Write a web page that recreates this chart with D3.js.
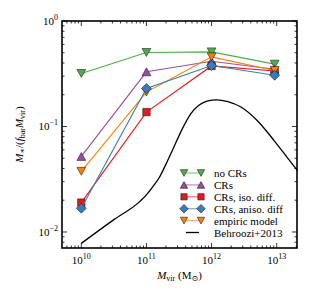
<!DOCTYPE html>
<html>
<head>
<meta charset="utf-8">
<script src="https://cdn.jsdelivr.net/npm/d3@7"></script>
<style>
  body { margin: 0; background: #fff; }
  text { font-family: "Liberation Serif", "DejaVu Serif", serif; }
</style>
</head>
<body>
<div class="chart"></div>
<script>
// halo masses of the simulated runs
const mvir = [1e10, 1e11, 1e12, 9.3e12];

const noCRs     = [0.318, 0.503, 0.51, 0.39];
const crs       = [0.052, 0.33, 0.416, 0.349];
const crsIso    = [0.019, 0.137, 0.375, 0.336];
const crsAniso  = [0.0168, 0.229, 0.378, 0.306];
const empiric   = [0.0376, 0.212, 0.457, 0.34];

// Behroozi+2013 relation
const behrooziLogM = [10.0, 10.5, 10.9, 11.0, 11.1, 11.2, 11.3, 11.42, 11.55, 11.68, 11.8, 11.93, 12.08, 12.25, 12.45, 12.7, 12.96, 13.16, 13.32];
const behrooziVal  = [0.0078, 0.0131, 0.0195, 0.0225, 0.027, 0.033, 0.044, 0.0635, 0.095, 0.132, 0.158, 0.174, 0.179, 0.172, 0.153, 0.114, 0.0736, 0.051, 0.038];

const xTickExp = [10, 11, 12, 13];
const yTickExp = [0, -1, -2];

const series = [
  {key: "no CRs",             values: noCRs,    color: "#4daf4a", shape: "tridown", size: 4.4},
  {key: "CRs",                values: crs,      color: "#984ea3", shape: "triup",   size: 4.4},
  {key: "CRs, iso. diff.",    values: crsIso,   color: "#e41a1c", shape: "square",  size: 3.7},
  {key: "empiric model",      values: empiric,  color: "#ff7f00", shape: "tridown", size: 4.4},
  {key: "CRs, aniso. diff",   values: crsAniso, color: "#377eb8", shape: "diamond", size: 5}
];
const legendOrder = ["no CRs", "CRs", "CRs, iso. diff.", "CRs, aniso. diff", "empiric model"];

const margin = {top: 21, right: 18, bottom: 52, left: 62};
const width = 315 - margin.left - margin.right,
      height = 300 - margin.top - margin.bottom;

const svg = d3.select(".chart").append("svg")
    .attr("width", 315)
    .attr("height", 300)
  .append("g")
    .attr("transform", `translate(${margin.left},${margin.top})`);

const xScale = d3.scaleLog().domain([5.05e9, 2.05e13]).range([0, width]);
const yScale = d3.scaleLog().domain([0.00705, 1]).range([height, 0]);

// marker shapes, "size" is the half extent in px
function symbolPath(shape, r) {
  const p = d3.path();
  if (shape === "square") {
    p.rect(-r, -r, 2 * r, 2 * r);
  } else if (shape === "diamond") {
    p.moveTo(0, -r); p.lineTo(r, 0); p.lineTo(0, r); p.lineTo(-r, 0); p.closePath();
  } else if (shape === "triup") {
    p.moveTo(0, -r * 0.9); p.lineTo(r, r * 0.9); p.lineTo(-r, r * 0.9); p.closePath();
  } else {
    p.moveTo(0, r * 0.9); p.lineTo(r, -r * 0.9); p.lineTo(-r, -r * 0.9); p.closePath();
  }
  return p.toString();
}

// ticks: inward on all sides
const ticksG = svg.append("g").attr("stroke", "#000").attr("stroke-width", 0.8);
const xMinor = [], yMinor = [];
for (let e = 9; e <= 13; e++) for (let m = 2; m <= 9; m++) {
  const v = m * Math.pow(10, e);
  if (v > xScale.domain()[0] && v < xScale.domain()[1]) xMinor.push(v);
}
for (let e = -3; e <= -1; e++) for (let m = 2; m <= 9; m++) {
  const v = m * Math.pow(10, e);
  if (v > yScale.domain()[0] && v < yScale.domain()[1]) yMinor.push(v);
}
const xMajor = xTickExp.map(e => Math.pow(10, e));
const yMajor = yTickExp.map(e => Math.pow(10, e));

[[xMajor, 5], [xMinor, 2.5]].forEach(([vals, len]) => {
  vals.forEach(v => {
    const x = xScale(v);
    ticksG.append("line").attr("x1", x).attr("x2", x).attr("y1", height).attr("y2", height - len);
    ticksG.append("line").attr("x1", x).attr("x2", x).attr("y1", 0).attr("y2", len);
  });
});
[[yMajor, 5], [yMinor, 2.5]].forEach(([vals, len]) => {
  vals.forEach(v => {
    const y = yScale(v);
    ticksG.append("line").attr("x1", 0).attr("x2", len).attr("y1", y).attr("y2", y);
    ticksG.append("line").attr("x1", width).attr("x2", width - len).attr("y1", y).attr("y2", y);
  });
});

// tick labels
xTickExp.forEach(e => {
  const t = svg.append("text")
      .attr("x", xScale(Math.pow(10, e)))
      .attr("y", height + 16)
      .attr("text-anchor", "middle")
      .attr("font-size", 11);
  t.append("tspan").text("10");
  t.append("tspan").attr("dy", -5).attr("font-size", 8).text(e);
});
yTickExp.forEach(e => {
  const t = svg.append("text")
      .attr("x", -4)
      .attr("y", yScale(Math.pow(10, e)) + 4)
      .attr("text-anchor", "end")
      .attr("font-size", 11);
  t.append("tspan").text("10");
  t.append("tspan").attr("dy", -5).attr("font-size", 8).text(e === 0 ? "0" : "\u2212" + (-e));
});

// Behroozi curve
const line = d3.line()
    .x((d, i) => xScale(mvir[i]))
    .y(d => yScale(d));
const bLine = d3.line()
    .x(d => xScale(Math.pow(10, d[0])))
    .y(d => yScale(d[1]))
    .curve(d3.curveMonotoneX);

const plot = svg.append("g");
plot.append("path")
    .datum(behrooziLogM.map((m, i) => [m, behrooziVal[i]]))
    .attr("d", bLine)
    .attr("fill", "none")
    .attr("stroke", "#000")
    .attr("stroke-width", 1.3);

series.forEach(s => {
  const g = plot.append("g");
  g.append("path")
      .datum(s.values)
      .attr("d", line)
      .attr("fill", "none")
      .attr("stroke", s.color)
      .attr("stroke-width", 1.1);
  g.selectAll("path.pt")
    .data(s.values)
    .enter().append("path")
      .attr("class", "pt")
      .attr("d", symbolPath(s.shape, s.size))
      .attr("transform", (d, i) => `translate(${xScale(mvir[i])},${yScale(d)})`)
      .attr("fill", s.color)
      .attr("stroke", "#222")
      .attr("stroke-width", 0.6);
});

// frame
svg.append("rect")
    .attr("width", width).attr("height", height)
    .attr("fill", "none").attr("stroke", "#000").attr("stroke-width", 1.6);

// legend
const legend = svg.append("g").attr("transform", `translate(${184 - margin.left},${173 - margin.top})`);
const rowH = 11.9;
legendOrder.forEach((k, i) => {
  const s = series.find(d => d.key === k);
  const g = legend.append("g").attr("transform", `translate(0,${i * rowH})`);
  g.append("line").attr("x1", 0).attr("x2", 17).attr("stroke", s.color).attr("stroke-opacity", 0.6).attr("stroke-width", 1.3);
  [0, 17].forEach(x => {
    g.append("path")
        .attr("d", symbolPath(s.shape, s.size * 0.85))
        .attr("transform", `translate(${x},0)`)
        .attr("fill", s.color).attr("stroke", "#222").attr("stroke-width", 0.6);
  });
  g.append("text").attr("x", 30).attr("y", 4).attr("font-size", 11).text(k);
});
const lastRow = legend.append("g").attr("transform", `translate(0,${5 * rowH})`);
lastRow.append("line").attr("x1", 2).attr("x2", 15).attr("stroke", "#000").attr("stroke-width", 1.3);
lastRow.append("text").attr("x", 30).attr("y", 4).attr("font-size", 11).text("Behroozi+2013");

// axis labels
const xl = svg.append("text")
    .attr("x", width / 2).attr("y", height + 31)
    .attr("text-anchor", "middle").attr("font-size", 11);
xl.append("tspan").attr("font-style", "italic").text("M");
xl.append("tspan").attr("font-size", 8).attr("dy", 2).text("vir");
xl.append("tspan").attr("dy", -2).text(" (M");
xl.append("tspan").attr("font-size", 8).attr("dy", 2).text("\u2299");
xl.append("tspan").attr("dy", -2).text(")");

const yl = svg.append("text")
    .attr("transform", `translate(${23 - margin.left},${height / 2}) rotate(-90)`)
    .attr("text-anchor", "middle").attr("font-size", 11);
yl.append("tspan").attr("font-style", "italic").text("M");
yl.append("tspan").attr("font-size", 8).attr("dy", 2).text("\u2217");
yl.append("tspan").attr("dy", -2).text("/(");
yl.append("tspan").attr("font-style", "italic").text("f");
yl.append("tspan").attr("font-size", 8).attr("dy", 2).text("bar");
yl.append("tspan").attr("dy", -2).attr("font-style", "italic").text("M");
yl.append("tspan").attr("font-size", 8).attr("dy", 2).text("vir");
yl.append("tspan").attr("dy", -2).text(")");
</script>
</body>
</html>
